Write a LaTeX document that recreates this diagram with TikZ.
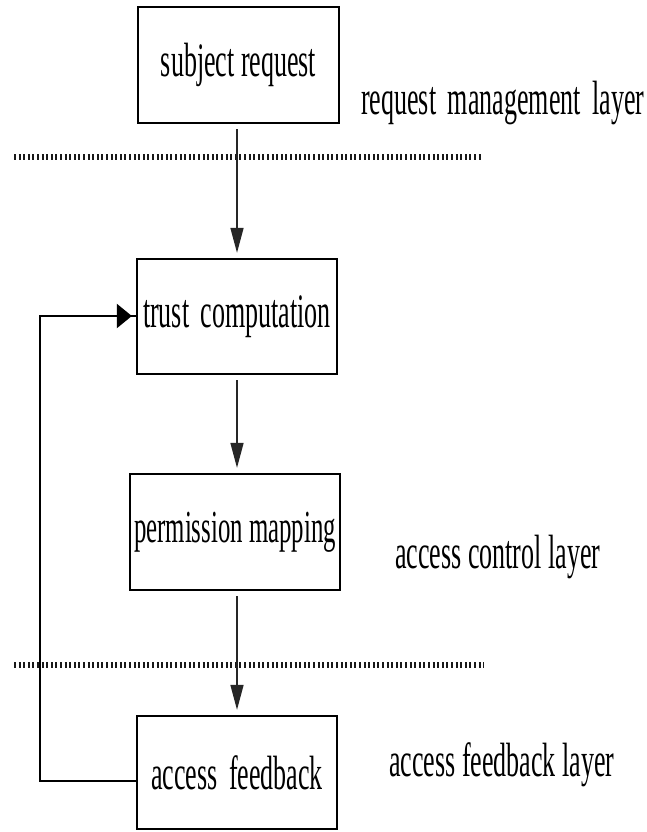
\documentclass[tikz,border=0pt]{standalone}
\usepackage{fontspec}
\setmainfont{Liberation Serif}
\usetikzlibrary{arrows.meta}
\newcommand\stretchtxt[1]{\scalebox{1}[1.85]{#1}}
\begin{document}
\begin{tikzpicture}[x=1pt,y=-1pt,
  box/.style={draw=black,line width=2.3pt,inner sep=0pt,font=\fontsize{26}{26}\selectfont},
  lbl/.style={anchor=west,inner sep=0pt,font=\fontsize{26}{26}\selectfont},
  flow/.style={draw=black!85,line width=1.5pt,-{Triangle[length=25pt,width=13pt]},shorten <=5pt,shorten >=5pt},
  fb/.style={draw=black,line width=2.2pt},
  dotline/.style={draw=black!90,line width=6pt,dash pattern=on 2pt off 2.6pt}]
\useasboundingbox (0,0) rectangle (646,832);
\fill[white] (0,0) rectangle (646,832);
% boxes
\node[box,minimum width=201pt,minimum height=116pt] (sr) at (238.5,65) {\stretchtxt{subject request}};
\node[box,minimum width=200pt,minimum height=115pt] (tc) at (237,316.5) {\stretchtxt{trust\hspace{0.45em}computation}};
\node[box,minimum width=210pt,minimum height=116pt,font=\fontsize{24.8}{25}\selectfont] (pm) at (235,532) {\stretchtxt{permission mapping}};
\node[box,minimum width=200pt,minimum height=113pt] (af) at (237,772.5) {\stretchtxt{access\hspace{0.45em}feedback}};
% dotted layer separators
\coordinate (d1a) at (14,157); \coordinate (d1b) at (481,157);
\coordinate (d2a) at (14,665); \coordinate (d2b) at (484,665);
\draw[dotline] (d1a) -- (d1b);
\draw[dotline] (d2a) -- (d2b);
% flow arrows
\draw[flow] (tc.north |- sr.south) -- (tc.north);
\draw[flow] (tc.south) -- (tc.south |- pm.north);
\draw[flow] (tc.south |- pm.south) -- (tc.south |- af.north);
% feedback loop
\coordinate (c1) at (40,781);
\coordinate (c2) at (40,316);
\draw[fb] (af.west |- c1) -- (c1) -- (c2) -- (c2 -| tc.west);
\draw[fb,-{Triangle[length=15pt,width=24pt]},shorten >=4pt] (c2) -- (c2 -| tc.west);
% layer labels
\node[lbl] (l1) at (361,103) {\stretchtxt{request\hspace{0.45em}management\hspace{0.45em}layer}};
\node[lbl] (l2) at (395,557) {\stretchtxt{access control layer}};
\node[lbl] (l3) at (389,765) {\stretchtxt{access feedback layer}};
\end{tikzpicture}
\end{document}
